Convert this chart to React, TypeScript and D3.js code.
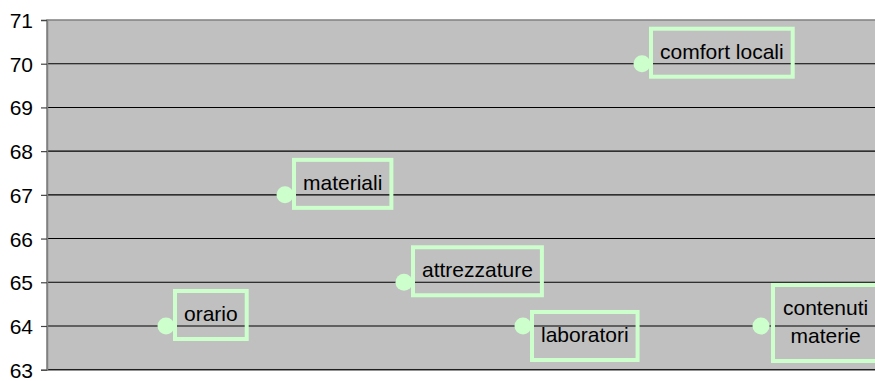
import React, { useEffect, useRef } from "react";
import * as d3 from "d3";

// categories and scores
const categories = ["orario", "materiali", "attrezzature", "laboratori", "comfort locali", "contenuti materie"];
const scores = [64, 67, 65, 64, 70, 64];
// how each label is split into lines
const labelLines = [["orario"], ["materiali"], ["attrezzature"], ["laboratori"], ["comfort locali"], ["contenuti", "materie"]];
const yTicks = [63, 64, 65, 66, 67, 68, 69, 70, 71];

// label placement: "above" sits up next to the point, "below" is pushed down
const labelPlacement = ["above", "above", "above", "below", "above", "middle"];

const App = () => {
  const svgRef = useRef<SVGSVGElement>(null);

  useEffect(() => {
    const svg = d3.select(svgRef.current);
    svg.selectAll("*").remove();

    const width = 875;
    const height = 381;
    const margin = { top: 20, right: -5, bottom: 11.3, left: 47 };
    const font = "Arial, 'Liberation Sans', sans-serif";
    const fs = 21;

    const x = d3.scaleLinear().domain([0, 7]).range([margin.left, width - margin.right]);
    const y = d3.scaleLinear().domain([63, 71]).range([height - margin.bottom, margin.top]);

    //plot background
    svg
      .append("rect")
      .attr("x", margin.left)
      .attr("y", margin.top)
      .attr("width", width - margin.right - margin.left)
      .attr("height", y(63) - y(71))
      .attr("fill", "#c0c0c0")
      .attr("stroke", "#808080")
      .attr("stroke-width", 1.5);

    //grid lines
    svg
      .append("g")
      .selectAll("line")
      .data(yTicks.filter((t) => t < 71))
      .enter()
      .append("line")
      .attr("x1", margin.left)
      .attr("x2", width)
      .attr("y1", (d) => y(d))
      .attr("y2", (d) => y(d))
      .attr("stroke", "#000")
      .attr("stroke-width", 1.1);

    //y axis
    const yAxis = svg
      .append("g")
      .attr("transform", `translate(${margin.left}, 0)`)
      .call(d3.axisLeft(y).tickValues(yTicks).tickSize(6).tickPadding(8).tickFormat(d3.format("d")));
    yAxis.select(".domain").attr("stroke", "#808080").attr("stroke-width", 1.5);
    yAxis.selectAll(".tick line").attr("stroke", "#444").attr("stroke-width", 1.2);
    yAxis
      .selectAll(".tick text")
      .attr("font-family", font)
      .attr("font-size", fs)
      .attr("fill", "#000")
      .attr("dy", "0.36em");

    const points = categories.map((c, i) => ({ c, v: scores[i], lines: labelLines[i], place: labelPlacement[i], i }));

    //points
    svg
      .append("g")
      .selectAll("circle")
      .data(points)
      .enter()
      .append("circle")
      .attr("cx", (d) => x(d.i + 1))
      .attr("cy", (d) => y(d.v))
      .attr("r", 8.5)
      .attr("fill", "#ccffcc");

    //labels with boxes
    const labels = svg.append("g");
    points.forEach((d) => {
      const px = x(d.i + 1);
      const py = y(d.v);
      const g = labels.append("g");
      const rect = g.append("rect");
      const lineH = 28;
      const multi = d.lines.length > 1;
      let baseline = py - 5;
      if (d.place === "below") baseline = py + 16;
      if (d.place === "middle") baseline = py - 11;
      const tx = multi ? px + 22 : px + 18;
      const text = g
        .append("text")
        .attr("font-family", font)
        .attr("font-size", fs)
        .attr("fill", "#000");
      d.lines.forEach((ln, k) => {
        text
          .append("tspan")
          .attr("x", tx)
          .attr("y", baseline + k * lineH)
          .text(ln);
      });
      const bb = (text.node() as SVGTextElement).getBBox();
      // center multi-line text inside the box
      if (multi) {
        text.selectAll("tspan").each(function () {
          const t = this as SVGTSpanElement;
          const w = t.getComputedTextLength();
          d3.select(t).attr("x", tx + (bb.width - w) / 2);
        });
      }
      const top = baseline - 30;
      const bottom = baseline + 18 + (d.lines.length - 1) * lineH;
      rect
        .attr("x", multi ? tx - 10 : tx - 9)
        .attr("y", top)
        .attr("width", bb.width + (multi ? 24 : 18))
        .attr("height", bottom - top)
        .attr("fill", "none")
        .attr("stroke", "#ccffcc")
        .attr("stroke-width", 4);
    });
  }, []);

  return (
    <div>
      <style>{`body{margin:0;}`}</style>
      <svg ref={svgRef} width={875} height={381} style={{ display: "block", background: "#fff" }} />
    </div>
  );
};

export default App;
